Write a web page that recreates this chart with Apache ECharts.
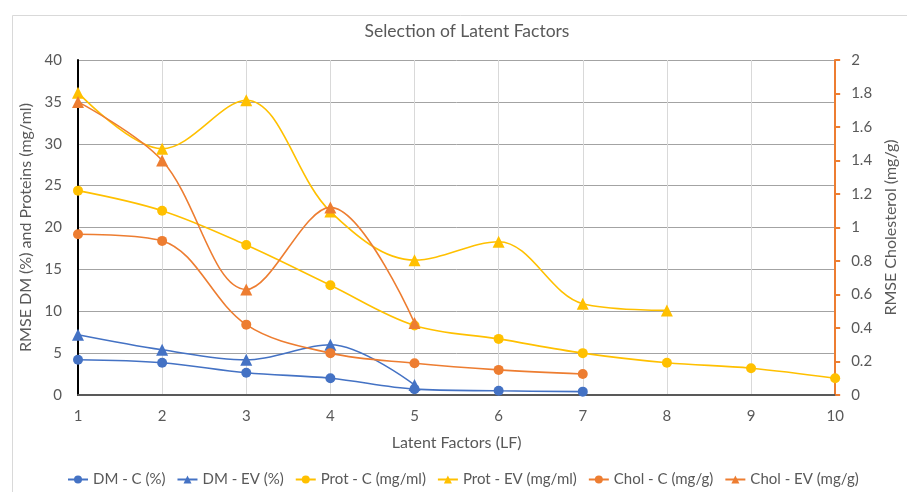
<!DOCTYPE html>
<html>
<head>
<meta charset="utf-8">
<script src="https://cdn.jsdelivr.net/npm/echarts@6/dist/echarts.min.js"></script>
<style>
  html, body { margin: 0; padding: 0; background: #ffffff; }
  #chart { width: 907px; height: 492px; }
</style>
</head>
<body>
<div id="chart"></div>
<script>
// Number of latent factors tested
const latentFactors = [1, 2, 3, 4, 5, 6, 7, 8, 9, 10];

// RMSE, dry matter (%)
const dmC  = [4.2, 3.85, 2.65, 2.0, 0.7, 0.5, 0.4];
const dmEV = [7.2, 5.4, 4.2, 6.0, 1.2];

// RMSE, proteins (mg/ml)
const protC  = [24.4, 22.0, 17.9, 13.1, 8.3, 6.7, 5.0, 3.85, 3.2, 2.0];
const protEV = [36.1, 29.4, 35.2, 21.9, 16.1, 18.3, 10.9, 10.1];

// RMSE, cholesterol (mg/g) - right axis
const cholC  = [0.96, 0.92, 0.42, 0.25, 0.19, 0.15, 0.125];
const cholEV = [1.75, 1.40, 0.63, 1.12, 0.43];

const leftTicks  = { min: 0, max: 40, interval: 5 };
const rightTicks = { min: 0, max: 2, interval: 0.2 };

const FONT = 'Lato';
const TEXT = '#595959';
const BLUE = '#4472C4';
const ORANGE = '#ED7D31';
const YELLOW = '#FFC000';

function pairs(values) {
  return values.map((v, i) => [latentFactors[i], v]);
}

function makeSeries(name, values, color, symbol, yIndex) {
  return {
    name: name,
    type: 'line',
    yAxisIndex: yIndex,
    data: pairs(values),
    smooth: 0.35,
    symbol: symbol,
    symbolSize: symbol === 'circle' ? 10 : 12,
    showAllSymbol: true,
    lineStyle: { color: color, width: 1.6 },
    itemStyle: { color: color, borderWidth: 0 },
    emphasis: { disabled: true },
    animation: false
  };
}

const chart = echarts.init(document.getElementById('chart'), null, { renderer: 'canvas' });

chart.setOption({
  backgroundColor: '#ffffff',
  animation: false,
  textStyle: { fontFamily: FONT },
  graphic: [{
    type: 'rect',
    left: 10, top: 13,
    shape: { width: 1000, height: 1000 },
    style: { fill: 'none', stroke: '#d9d9d9', lineWidth: 1 },
    silent: true
  }],
  title: {
    text: 'Selection of Latent Factors',
    left: 462,
    textAlign: 'center',
    top: 17,
    textStyle: { fontFamily: FONT, fontSize: 17.5, fontWeight: 'normal', color: TEXT }
  },
  legend: {
    top: 467,
    left: 62,
    itemWidth: 20,
    itemHeight: 10,
    itemGap: 11,
    textStyle: { fontFamily: FONT, fontSize: 15, color: TEXT },
    data: ['DM - C (%)', 'DM - EV (%)', 'Prot - C (mg/ml)', 'Prot - EV (mg/ml)', 'Chol - C (mg/g)', 'Chol - EV (mg/g)']
  },
  grid: { left: 78, right: 66, top: 60, bottom: 97 },
  xAxis: [{
    type: 'value',
    min: 1, max: 10, interval: 1,
    name: 'Latent Factors (LF)',
    nameLocation: 'middle',
    nameGap: 40,
    nameTextStyle: { fontFamily: FONT, fontSize: 16, color: TEXT },
    axisLine: { show: true, onZero: false, lineStyle: { color: '#000000', width: 2 } },
    axisTick: { show: false },
    axisLabel: { fontFamily: FONT, fontSize: 15, color: TEXT, margin: 14 },
    splitLine: { show: true, lineStyle: { color: '#d9d9d9', width: 1 } }
  }, {
    type: 'value',
    position: 'top',
    min: 1, max: 10, interval: 1,
    axisLine: { show: true, lineStyle: { color: '#595959', width: 2 } },
    axisTick: { show: false },
    axisLabel: { show: false },
    splitLine: { show: false }
  }],
  yAxis: [{
    type: 'value',
    position: 'left',
    min: leftTicks.min, max: leftTicks.max, interval: leftTicks.interval,
    name: 'RMSE DM (%) and Proteins (mg/ml)',
    nameLocation: 'middle',
    nameGap: 40,
    nameTextStyle: { fontFamily: FONT, fontSize: 16, color: TEXT },
    axisLine: { show: true, onZero: false, lineStyle: { color: '#000000', width: 2 } },
    axisTick: { show: false },
    axisLabel: { fontFamily: FONT, fontSize: 15, color: TEXT, margin: 16 },
    splitLine: { show: true, lineStyle: { color: '#a3a3a3', width: 1 } }
  }, {
    type: 'value',
    position: 'right',
    min: rightTicks.min, max: rightTicks.max, interval: rightTicks.interval,
    name: 'RMSE Cholesterol (mg/g)',
    nameLocation: 'middle',
    nameGap: 44,
    nameRotate: 90,
    nameTextStyle: { fontFamily: FONT, fontSize: 16, color: TEXT },
    axisLine: { show: true, onZero: false, lineStyle: { color: ORANGE, width: 2 } },
    axisTick: { show: true, length: 5, lineStyle: { color: ORANGE, width: 2 } },
    axisLabel: { fontFamily: FONT, fontSize: 15, color: TEXT, margin: 16 },
    splitLine: { show: false }
  }],
  series: [
    makeSeries('DM - C (%)', dmC, BLUE, 'circle', 0),
    makeSeries('DM - EV (%)', dmEV, BLUE, 'triangle', 0),
    makeSeries('Prot - C (mg/ml)', protC, YELLOW, 'circle', 0),
    makeSeries('Prot - EV (mg/ml)', protEV, YELLOW, 'triangle', 0),
    makeSeries('Chol - C (mg/g)', cholC, ORANGE, 'circle', 1),
    makeSeries('Chol - EV (mg/g)', cholEV, ORANGE, 'triangle', 1)
  ]
});
</script>
</body>
</html>
